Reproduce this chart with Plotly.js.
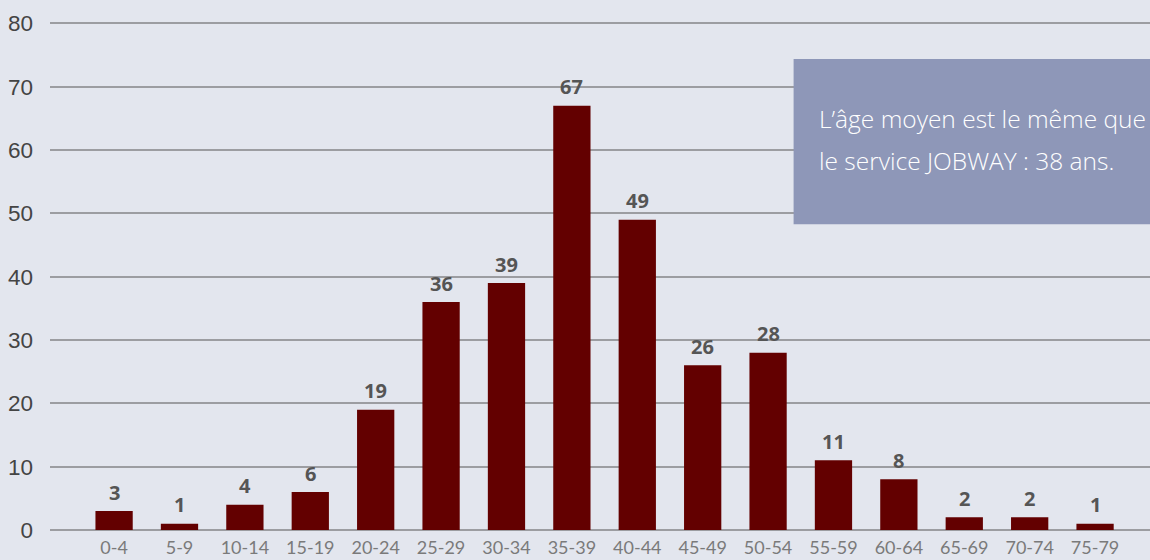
<!DOCTYPE html>
<html>
<head>
<meta charset="utf-8">
<script src="https://cdn.plot.ly/plotly-3.0.1.min.js"></script>
<style>
  html, body { margin: 0; padding: 0; background: #E3E6EE; }
  #chart { width: 1150px; height: 560px; }
</style>
</head>
<body>
<div id="chart"></div>
<script>
// Age groups and number of people in each
const ageGroups = ['0-4', '5-9', '10-14', '15-19', '20-24', '25-29', '30-34', '35-39',
                   '40-44', '45-49', '50-54', '55-59', '60-64', '65-69', '70-74', '75-79'];
const counts = [3, 1, 4, 6, 19, 36, 39, 67, 49, 26, 28, 11, 8, 2, 2, 1];
const yTicks = [0, 10, 20, 30, 40, 50, 60, 70, 80];
const noteLines = ['L\u2019âge moyen est le même que', 'le service JOBWAY : 38 ans.'];

const bg = '#E3E6EE';
const yMax = 81;

const trace = {
  type: 'bar',
  x: ageGroups,
  y: counts,
  width: 0.57,
  marker: { color: '#630000' },
  hoverinfo: 'x+y'
};

// value labels above each bar
const valueLabels = ageGroups.map((g, i) => ({
  x: g, y: counts[i], xref: 'x', yref: 'y',
  text: String(counts[i]),
  showarrow: false,
  yanchor: 'middle',
  yshift: 19,
  font: { family: 'Open Sans, sans-serif', size: 20, color: '#555555', weight: 700 }
}));

// two-line note inside the blue box
const noteFont = { family: 'Open Sans, sans-serif', size: 24.5, color: '#FFFFFF', weight: 300 };
const notes = noteLines.map((line, i) => ({
  xref: 'paper', yref: 'paper',
  x: 0.697, y: [0.803, 0.721][i],
  xanchor: 'left', yanchor: 'middle',
  align: 'left',
  text: line,
  showarrow: false,
  font: noteFont
}));

const layout = {
  width: 1150, height: 560,
  margin: { l: 50, r: 0, t: 17, b: 30 },
  paper_bgcolor: bg,
  plot_bgcolor: bg,
  showlegend: false,
  xaxis: {
    type: 'category',
    range: [-0.98, 15.84],
    showgrid: false,
    zeroline: false,
    showline: false,
    ticks: '',
    ticklabelstandoff: 5,
    tickfont: { family: 'Lato, sans-serif', size: 18, color: '#7A7A7A' }
  },
  yaxis: {
    range: [0, yMax],
    tickvals: yTicks,
    ticktext: yTicks.map(String),
    showgrid: true,
    gridcolor: '#9C9DA1',
    gridwidth: 2,
    zeroline: true,
    zerolinecolor: '#9C9DA1',
    zerolinewidth: 2,
    showline: false,
    ticks: '',
    ticklabelstandoff: 16,
    tickfont: { family: 'Liberation Sans, Arial, sans-serif', size: 22.5, color: '#444444' }
  },
  shapes: [{
    type: 'rect', xref: 'paper', yref: 'paper',
    x0: 0.676, x1: 1.01, y0: 0.596, y1: 0.918,
    fillcolor: '#8E97B8', line: { width: 0 }, layer: 'above'
  }],
  annotations: valueLabels.concat(notes)
};

Plotly.newPlot('chart', [trace], layout, { displayModeBar: false, staticPlot: true });
</script>
</body>
</html>
